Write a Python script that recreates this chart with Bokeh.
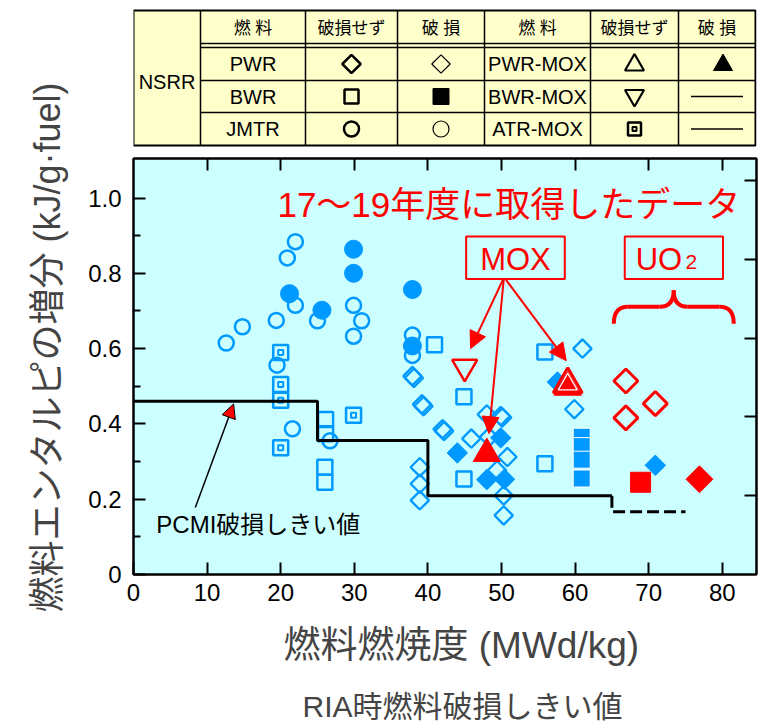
import numpy as np
from bokeh.plotting import figure
from bokeh.layouts import column
from bokeh.models import (Range1d, LinearAxis, FixedTicker, NumeralTickFormatter,
                          CustomJSTickFormatter, Title, Arrow, NormalHead)
from bokeh.core.properties import value
from bokeh.embed import file_html
from bokeh.resources import INLINE

# ---------------- data: burnup (MWd/kg) vs. fuel enthalpy increase (kJ/g-fuel) ----------------
# JMTR rods
jmtr_ok_bu = [12.6, 14.8, 19.4, 20.9, 22.0, 22.0, 25.0, 29.9, 31.0, 29.9, 37.9, 37.9, 19.5, 21.6, 26.7]
jmtr_ok_h = [0.615, 0.658, 0.675, 0.841, 0.884, 0.715, 0.674, 0.715, 0.674, 0.633, 0.636, 0.582, 0.556, 0.387, 0.355]
jmtr_fail_bu = [21.2, 25.6, 29.9, 29.9, 37.9, 37.9]
jmtr_fail_h = [0.746, 0.702, 0.864, 0.800, 0.757, 0.607]

# ATR-MOX rods
atr_bu = [20.0, 20.0, 20.0, 20.0, 29.9]
atr_h = [0.590, 0.505, 0.463, 0.337, 0.423]

# BWR rods
bwr_ok_bu = [26.1, 26.1, 26.0, 26.0, 40.9, 44.9, 44.9, 55.9, 55.9]
bwr_ok_h = [0.412, 0.374, 0.285, 0.245, 0.610, 0.472, 0.254, 0.294, 0.591]
bwr_fail_bu = [60.9, 60.9, 60.9, 60.9]
bwr_fail_h = [0.366, 0.341, 0.305, 0.255]

# PWR rods
pwr_ok_bu = [37.9, 38.1, 39.2, 39.4, 42.0, 42.2, 45.9, 48.0, 50.1, 49.9, 48.3, 49.4,
             50.8, 50.3, 50.3, 38.9, 38.9, 38.9, 61.0, 59.9]
pwr_ok_h = [0.527, 0.522, 0.452, 0.447, 0.386, 0.381, 0.361, 0.425, 0.417, 0.421, 0.365, 0.277,
            0.312, 0.210, 0.157, 0.285, 0.241, 0.197, 0.600, 0.439]
pwr_fail_bu = [44.0, 49.9, 48.0, 50.4, 57.6, 70.9]
pwr_fail_h = [0.323, 0.363, 0.252, 0.253, 0.511, 0.290]

# FY17-19 tests
mox_pwr_fail_bu = [48.0, 59.0]
mox_pwr_fail_h = [0.321, 0.497]
mox_pwr_ok_bu = [59.0]
mox_pwr_ok_h = [0.505]
mox_bwr_ok_bu = [45.0]
mox_bwr_ok_h = [0.551]
uo2_ok_bu = [66.9, 66.9, 70.9]
uo2_ok_h = [0.514, 0.416, 0.454]
uo2_bwr_fail_bu = [68.9]
uo2_bwr_fail_h = [0.245]
uo2_pwr_fail_bu = [76.9]
uo2_pwr_fail_h = [0.253]

# PCMI failure threshold (110 / 85 / 50 / 40 cal/g)
thr_bu = [0, 25, 25, 40, 40, 65]
thr_h = [0.460, 0.460, 0.356, 0.356, 0.209, 0.209]
thr_ext_bu = [65, 65, 75]
thr_ext_h = [0.209, 0.167, 0.167]

x_ticks = [0, 10, 20, 30, 40, 50, 60, 70, 80]
y_ticks = [0, 0.2, 0.4, 0.6, 0.8, 1.0]
y_minor = [0.1, 0.3, 0.5, 0.7, 0.9]
cal_ticks = [50, 100, 150, 200, 250]
KJ_PER_CAL = 0.004184

header_texts = ["燃 料", "破損せず", "破 損", "燃 料", "破損せず", "破 損"]
fuel_left = ["PWR", "BWR", "JMTR"]
fuel_right = ["PWR-MOX", "BWR-MOX", "ATR-MOX"]

FONT = "'Liberation Sans', 'Noto Sans CJK JP', sans-serif"
BLUE = "#0099FF"
RED = "#FF0000"
BG = "#CCFFFF"
YELLOW = "#FFFFCC"
DIAMOND = np.pi / 4

# ---------------- legend table (pixel coordinates, y downward) ----------------
tbl = figure(frame_width=623, frame_height=150, x_range=Range1d(133, 756), y_range=Range1d(150, 0),
             output_backend="svg", toolbar_location=None,
             min_border_left=133, min_border_right=2, min_border_top=0, min_border_bottom=0,
             background_fill_color="white", border_fill_color="white")
tbl.axis.visible = False
tbl.grid.visible = False
tbl.outline_line_color = None

col_edges = [133, 200, 305, 397, 484, 590, 678, 755]
t_top, t_bot = 10, 145
hdr1, hdr2 = 43, 47
row_lines = [80, 112]
row_mid = [63.5, 96, 128.5]
col_mid = [(a + b) / 2 for a, b in zip(col_edges[:-1], col_edges[1:])]

tbl.quad(left=[col_edges[0]], right=[col_edges[-1]], top=[t_top], bottom=[t_bot],
         fill_color=YELLOW, line_color=None)
n_in = len(col_edges) - 2
tbl.segment(x0=col_edges[1:-1], y0=[t_top] * n_in, x1=col_edges[1:-1], y1=[t_bot] * n_in,
            line_color="black", line_width=1.5)
hy = [hdr1, hdr2] + row_lines
tbl.segment(x0=[col_edges[1]] * len(hy), y0=hy, x1=[col_edges[-1]] * len(hy), y1=hy,
            line_color="black", line_width=1.5)
tbl.quad(left=[col_edges[0]], right=[col_edges[-1]], top=[t_top], bottom=[t_bot],
         fill_color=None, line_color="black", line_width=2)

tbl.text(x=col_mid[1:], y=[(t_top + hdr1) / 2 + 1] * 6, text=header_texts,
         text_font=value(FONT), text_font_size="17px", text_align="center", text_baseline="middle")
tbl.text(x=[col_mid[0]], y=[81], text=["NSRR"], text_font=value(FONT), text_font_size="20px",
         text_align="center", text_baseline="middle")
tbl.text(x=[col_mid[1]] * 3, y=row_mid, text=fuel_left, text_font=value(FONT), text_font_size="20px",
         text_align="center", text_baseline="middle")
tbl.text(x=[col_mid[4]] * 3, y=row_mid, text=fuel_right, text_font=value(FONT), text_font_size="20px",
         text_align="center", text_baseline="middle")

tbl.scatter([col_mid[2]], [row_mid[0]], marker="square", angle=DIAMOND, size=13,
            fill_color=None, line_color="black", line_width=2.5)
tbl.scatter([col_mid[3]], [row_mid[0]], marker="square", angle=DIAMOND, size=13,
            fill_color=None, line_color="black", line_width=1.2)
tbl.scatter([col_mid[2]], [row_mid[1]], marker="square", size=14,
            fill_color=None, line_color="black", line_width=2.5)
tbl.scatter([col_mid[3]], [row_mid[1]], marker="square", size=16,
            fill_color="black", line_color="black")
tbl.scatter([col_mid[2]], [row_mid[2]], marker="circle", size=15,
            fill_color=None, line_color="black", line_width=2.5)
tbl.scatter([col_mid[3]], [row_mid[2]], marker="circle", size=16,
            fill_color=None, line_color="black", line_width=1.2)
tbl.scatter([col_mid[5]], [row_mid[0] + 1], marker="triangle", size=19,
            fill_color=None, line_color="black", line_width=2.2)
tbl.scatter([col_mid[6] + 6], [row_mid[0] + 1], marker="triangle", size=19,
            fill_color="black", line_color="black")
tbl.scatter([col_mid[5]], [row_mid[1] - 1], marker="inverted_triangle", size=19,
            fill_color=None, line_color="black", line_width=2.2)
tbl.scatter([col_mid[5]], [row_mid[2]], marker="square", size=13,
            fill_color=None, line_color="black", line_width=2.5)
tbl.scatter([col_mid[5]], [row_mid[2]], marker="square", size=4,
            fill_color=None, line_color="black", line_width=2)
tbl.segment(x0=[col_mid[6] - 26] * 2, y0=row_mid[1:], x1=[col_mid[6] + 26] * 2, y1=row_mid[1:],
            line_color="black", line_width=1.5)

# ---------------- main chart (transparent border, pulled up over the table strip) ----------------
p = figure(frame_width=623, frame_height=416, x_range=Range1d(0, 84.65), y_range=Range1d(0, 1.105),
           output_backend="svg", toolbar_location=None,
           min_border_left=133, min_border_right=2, min_border_top=158, min_border_bottom=148,
           background_fill_color=BG, border_fill_color=None, margin=(-150, 0, 0, 0))
p.outline_line_color = "black"
p.outline_line_width = 2
p.grid.visible = False
p.extra_y_ranges = {"cal": Range1d(0, 1.105 / KJ_PER_CAL)}

xa = p.xaxis[0]
xa.ticker = FixedTicker(ticks=x_ticks)
ya = p.yaxis[0]
ya.ticker = FixedTicker(ticks=y_ticks, minor_ticks=y_minor)
ya.formatter = NumeralTickFormatter(format="0.0")
ya.major_label_overrides = {0: "0"}
for ax in (xa, ya):
    ax.axis_line_width = 2
    ax.major_tick_line_width = 2
    ax.minor_tick_line_width = 2
    ax.major_tick_in = 12
    ax.major_tick_out = 0
    ax.major_label_text_font = FONT
    ax.major_label_text_font_size = "24px"
    ax.major_label_text_color = "black"
xa.minor_tick_in = 0
xa.minor_tick_out = 0
xa.major_label_standoff = 9
ya.minor_tick_in = 7
ya.minor_tick_out = 0
ya.major_label_standoff = 12

blank = CustomJSTickFormatter(code="return ''")
top_ax = LinearAxis(ticker=FixedTicker(ticks=x_ticks[1:]), formatter=blank,
                    major_label_text_font_size="0px", major_label_standoff=0,
                    major_tick_in=12, major_tick_out=0, minor_tick_in=0, minor_tick_out=0,
                    axis_line_width=2, major_tick_line_width=2)
p.add_layout(top_ax, "above")
right_ax = LinearAxis(y_range_name="cal", ticker=FixedTicker(ticks=cal_ticks), formatter=blank,
                      major_label_text_font_size="0px", major_label_standoff=0,
                      major_tick_in=12, major_tick_out=0, minor_tick_in=0, minor_tick_out=0,
                      axis_line_width=2, major_tick_line_width=2)
p.add_layout(right_ax, "right")

p.add_layout(Title(text="燃料エンタルピの増分 (kJ/g·fuel)", align="left", offset=-38,
                   vertical_align="top", text_font=FONT, text_font_size="36px",
                   text_font_style="normal", standoff=31), "left")
p.add_layout(Title(text="燃料燃焼度 (MWd/kg)", align="left", offset=150,
                   text_font=FONT, text_font_size="37px", text_font_style="normal", standoff=39), "below")
p.add_layout(Title(text="RIA時燃料破損しきい値", align="left", offset=169,
                   text_font=FONT, text_font_size="30px", text_font_style="normal", standoff=5), "below")

# earlier NSRR / JMTR data (blue)
p.scatter(jmtr_ok_bu, jmtr_ok_h, marker="circle", size=15, fill_color=None, line_color=BLUE, line_width=2.5)
p.scatter(jmtr_fail_bu, jmtr_fail_h, marker="circle", size=18, fill_color=BLUE, line_color=BLUE)
p.scatter(atr_bu, atr_h, marker="square", size=15, fill_color=None, line_color=BLUE, line_width=2.5)
p.scatter(atr_bu, atr_h, marker="square", size=5, fill_color=None, line_color=BLUE, line_width=2)
p.scatter(bwr_ok_bu, bwr_ok_h, marker="square", size=15, fill_color=None, line_color=BLUE, line_width=2.5)
p.scatter(bwr_fail_bu, bwr_fail_h, marker="square", size=17, fill_color=BLUE, line_color="white", line_width=1)
p.scatter(pwr_ok_bu, pwr_ok_h, marker="square", angle=DIAMOND, size=13, fill_color=None,
          line_color=BLUE, line_width=2.3)
p.scatter(pwr_fail_bu, pwr_fail_h, marker="square", angle=DIAMOND, size=14.5, fill_color=BLUE,
          line_color=BLUE)

# PCMI failure threshold
p.line(thr_bu, thr_h, line_color="black", line_width=3)
p.line(thr_ext_bu, thr_ext_h, line_color="black", line_width=3, line_dash="12 5")

# FY17-19 data (red)
p.scatter(mox_bwr_ok_bu, mox_bwr_ok_h, marker="inverted_triangle", size=25, fill_color=None,
          line_color=RED, line_width=2.5)
p.scatter(mox_pwr_fail_bu, mox_pwr_fail_h, marker="triangle", size=27, fill_color=RED, line_color=RED)
p.scatter(mox_pwr_ok_bu, mox_pwr_ok_h, marker="triangle", size=29, fill_color=None,
          line_color=RED, line_width=3)
p.scatter(mox_pwr_ok_bu, mox_pwr_ok_h, marker="triangle", size=19, fill_color=None,
          line_color="white", line_width=1.2)
p.scatter(uo2_ok_bu, uo2_ok_h, marker="square", angle=DIAMOND, size=17, fill_color=None,
          line_color=RED, line_width=3)
p.scatter(uo2_bwr_fail_bu, uo2_bwr_fail_h, marker="square", size=20, fill_color=RED, line_color=RED)
p.scatter(uo2_pwr_fail_bu, uo2_pwr_fail_h, marker="square", angle=DIAMOND, size=19, fill_color=RED,
          line_color=RED)

# annotations
p.text(x=[51.0], y=[0.982], text=["17～19年度に取得したデータ"], text_font=value(FONT),
       text_font_size="35px", text_color=RED, text_align="center", text_baseline="alphabetic")
p.quad(left=[45.2, 66.75], right=[58.6, 80.1], bottom=[0.785, 0.785], top=[0.898, 0.898],
       fill_color=None, line_color=RED, line_width=2)
p.text(x=[51.9], y=[0.838], text=["MOX"], text_font=value(FONT), text_font_size="31px",
       text_color=RED, text_align="center", text_baseline="alphabetic")
p.text(x=[74.55], y=[0.838], text=["UO"], text_font=value(FONT), text_font_size="31px",
       text_color=RED, text_align="right", text_baseline="alphabetic")
p.text(x=[75.0], y=[0.830], text=["2"], text_font=value(FONT), text_font_size="21px",
       text_color=RED, text_align="left", text_baseline="alphabetic")

# curly brace under the UO2 box
b_l, b_r, b_m = 65.26, 81.56, 73.4
b_end, b_mid, b_tip = 0.666, 0.711, 0.755
b_r1 = 1.9
p.quadratic(x0=[b_l, b_m - b_r1, b_r, b_m + b_r1], y0=[b_end, b_mid, b_end, b_mid],
            x1=[b_l + b_r1, b_m, b_r - b_r1, b_m], y1=[b_mid, b_tip, b_mid, b_tip],
            cx=[b_l, b_m, b_r, b_m], cy=[b_mid, b_mid, b_mid, b_mid],
            line_color=RED, line_width=4)
p.segment(x0=[b_l + b_r1, b_m + b_r1], y0=[b_mid, b_mid], x1=[b_m - b_r1, b_r - b_r1], y1=[b_mid, b_mid],
          line_color=RED, line_width=4)

for xs, ys, xe, ye in [(50.2, 0.783, 45.8, 0.600), (50.3, 0.783, 48.3, 0.374), (50.6, 0.783, 58.8, 0.568)]:
    p.add_layout(Arrow(x_start=xs, y_start=ys, x_end=xe, y_end=ye, line_color=RED, line_width=2,
                       end=NormalHead(size=17, fill_color=RED, line_color=RED)))

p.text(x=[3.1], y=[0.133], text=["PCMI破損しきい値"], text_font=value(FONT), text_font_size="24px",
       text_color="black", text_align="left", text_baseline="alphabetic")
p.add_layout(Arrow(x_start=8.4, y_start=0.178, x_end=13.6, y_end=0.453, line_color="black", line_width=1.5,
                   end=NormalHead(size=14, fill_color=RED, line_color="black", line_width=1)))

layout = column(tbl, p, spacing=0)
open("out.html", "w").write(file_html(layout, INLINE))
